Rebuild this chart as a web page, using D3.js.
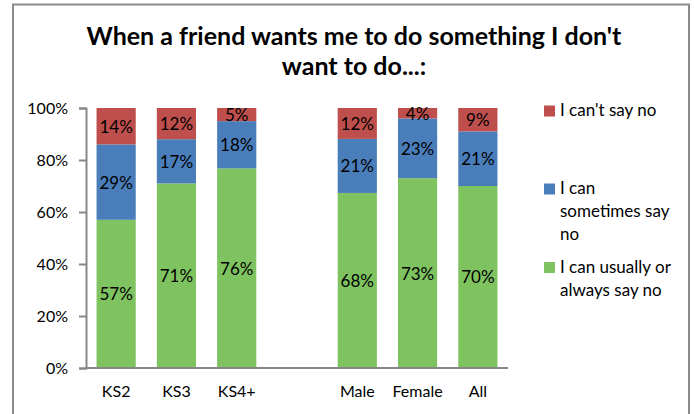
<!DOCTYPE html>
<html>
<head>
<meta charset="utf-8">
<script src="https://cdn.jsdelivr.net/npm/d3@7"></script>
<style>
  html, body { margin: 0; padding: 0; background: #fff; }
  svg { display: block; font-family: Lato, "Open Sans", sans-serif; }
</style>
</head>
<body>
<svg id="chart" width="694" height="414"></svg>
<script>
// Survey responses (%), by key stage and by gender
const categories = ["KS2", "KS3", "KS4+", "Male", "Female", "All"];
const usuallySayNo   = [57, 71, 76, 68, 73, 70];
const sometimesSayNo = [29, 17, 18, 21, 23, 21];
const cantSayNo      = [14, 12, 5, 12, 4, 9];
const seriesNames = ["I can usually or always say no", "I can sometimes say no", "I can't say no"];
const yTicks = [0, 0.2, 0.4, 0.6, 0.8, 1.0];
const titleLines = ["When a friend wants me to do something I don't", "want to do...:"];

const colors = ["#7fc361", "#4a7ebb", "#be4f4c"];
const legendLines = [
  ["I can't say no"],
  ["I can", "sometimes say", "no"],
  ["I can usually or", "always say no"]
];

const svg = d3.select("#chart");

// outer frame
svg.append("rect")
  .attr("x", 13).attr("y", 4.5)
  .attr("width", 676).attr("height", 430)
  .attr("fill", "none").attr("stroke", "#8c8c8c").attr("stroke-width", 2);

// title
const title = svg.append("text")
  .attr("text-anchor", "middle")
  .attr("font-weight", "bold")
  .attr("font-size", 25)
  .attr("fill", "#000");
title.selectAll("tspan").data(titleLines).join("tspan")
  .attr("x", 354)
  .attr("y", (d, i) => 45 + i * 30)
  .text(d => d);

// one empty slot separates the key-stage group from the gender group
const gapKey = "__gap__";
const slots = [...categories.slice(0, 3), gapKey, ...categories.slice(3)];

const x = d3.scaleBand()
  .domain(slots)
  .range([86, 508])
  .paddingInner(0.35)
  .paddingOuter(0.175);

const y = d3.scaleLinear().domain([0, 1]).range([368, 108]);

const rows = categories.map((c, i) => ({
  category: c,
  [seriesNames[0]]: usuallySayNo[i],
  [seriesNames[1]]: sometimesSayNo[i],
  [seriesNames[2]]: cantSayNo[i]
}));

// 100% stacked: each bar is normalised to its total
const stacked = d3.stack()
  .keys(seriesNames)
  .offset(d3.stackOffsetExpand)(rows);

const layers = svg.append("g").selectAll("g")
  .data(stacked)
  .join("g")
  .attr("fill", (d, i) => colors[i]);

layers.selectAll("rect")
  .data(d => d)
  .join("rect")
  .attr("x", d => x(d.data.category))
  .attr("width", x.bandwidth())
  .attr("y", d => y(d[1]))
  .attr("height", d => y(d[0]) - y(d[1]));

// value labels
layers.selectAll("text")
  .data(d => d.map(p => ({ p, key: d.key })))
  .join("text")
  .attr("x", d => x(d.p.data.category) + x.bandwidth() / 2)
  .attr("y", d => (y(d.p[0]) + y(d.p[1])) / 2)
  .attr("dy", "0.38em")
  .attr("text-anchor", "middle")
  .attr("font-size", 17)
  .attr("fill", "#000")
  .text(d => d.p.data[d.key] + "%");

// axes
const axisColor = "#878787";
const yAxis = svg.append("g")
  .attr("transform", "translate(86,0)")
  .call(d3.axisLeft(y).tickValues(yTicks).tickFormat(d3.format(".0%")).tickSize(7).tickPadding(11));

const xAxis = svg.append("g")
  .attr("transform", "translate(0,368)")
  .call(d3.axisBottom(x).tickSize(0).tickPadding(18).tickFormat(d => d === gapKey ? "" : d));

[yAxis, xAxis].forEach(g => {
  g.selectAll("path, line").attr("stroke", axisColor).attr("stroke-width", 2);
  g.selectAll("text").attr("font-size", 16).attr("fill", "#000").attr("font-family", "Lato, 'Open Sans', sans-serif");
});
xAxis.select(".domain").attr("d", "M86,0H508");

// legend
const legendTop = [116, 194, 272.5];
const legendOrder = [2, 1, 0];
const legend = svg.append("g");
legendOrder.forEach((si, li) => {
  const g = legend.append("g");
  g.append("rect")
    .attr("x", 544).attr("y", legendTop[li] - 10.5)
    .attr("width", 11).attr("height", 11)
    .attr("fill", colors[si]);
  const t = g.append("text").attr("font-size", 17).attr("fill", "#000");
  t.selectAll("tspan").data(legendLines[li]).join("tspan")
    .attr("x", 560)
    .attr("y", (d, i) => legendTop[li] + i * 23)
    .text(d => d);
});
</script>
</body>
</html>
